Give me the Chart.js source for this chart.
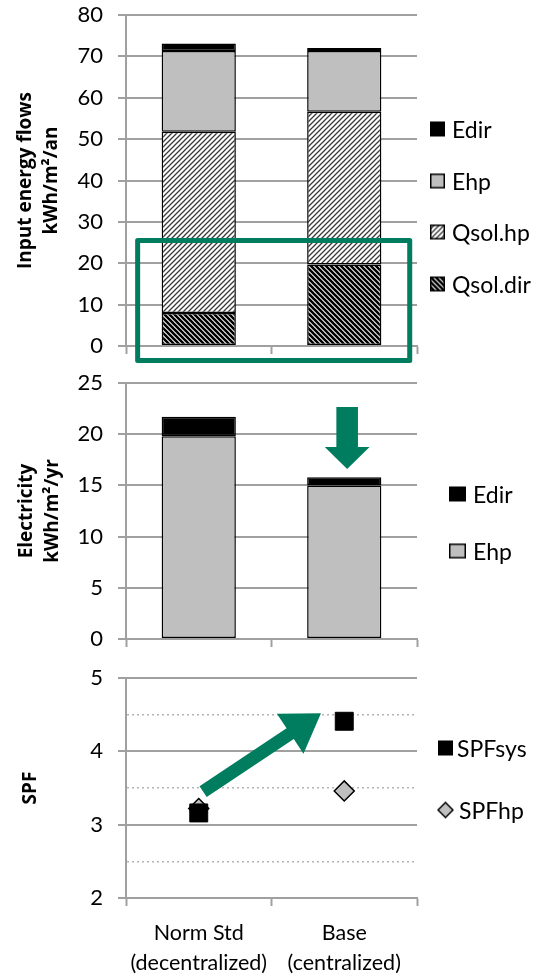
<!DOCTYPE html>
<html>
<head>
<meta charset="utf-8">
<script src="https://cdn.jsdelivr.net/npm/chart.js@4.4.1/dist/chart.umd.min.js"></script>
<style>
  html, body { margin: 0; padding: 0; background: #fff; }
  #wrap { position: relative; width: 537px; height: 977px; font-family: Lato, sans-serif; }
  canvas.chart { position: absolute; left: 0; }
  .lg { position: absolute; display: flex; align-items: center; font-size: 23px; color: #000;
        transform: translateY(-50%); white-space: nowrap; line-height: 1; }
</style>
</head>
<body>
<div id="wrap">
  <canvas id="flows" class="chart" width="537" height="368" style="top:0px"></canvas>
  <canvas id="elec" class="chart" width="537" height="288" style="top:368px"></canvas>
  <canvas id="spf" class="chart" width="537" height="321" style="top:656px"></canvas>
</div>
<script>
// categories (x axis)
const categories = [['Norm Std', '(decentralized)'], ['Base', '(centralized)']];

// input energy flows, kWh/m2/an (stacked, bottom to top)
const flowQsolDir = [8.0, 19.7];
const flowQsolHp = [43.8, 36.9];
const flowEhp = [19.5, 14.7];
const flowEdir = [1.8, 0.7];

// electricity, kWh/m2/yr
const elecEhp = [19.8, 15.0];
const elecEdir = [1.9, 0.8];

// seasonal performance factors
const spfSys = [3.16, 4.41];
const spfHp = [3.22, 3.46];

// axis ticks
const flowTicks = { min: 0, max: 80, step: 10 };
const elecTicks = { min: 0, max: 25, step: 5 };
const spfTicks = { min: 2, max: 5, step: 0.5 };

const GRID = '#a0a0a0';
const DOT = '#b4b4b4';
const GREEN = '#007d5e';
const GREY_FILL = '#bfbfbf';
const FONT = 'Lato';
const TITLE_FONT = 'Open Sans';

function hatch(forward, color, width, size) {
    const c = document.createElement('canvas');
    c.width = c.height = size;
    const g = c.getContext('2d');
    g.fillStyle = '#fff';
    g.fillRect(0, 0, size, size);
    g.strokeStyle = color;
    g.lineWidth = width;
    g.beginPath();
    if (forward) {
        g.moveTo(0, size); g.lineTo(size, 0);
        g.moveTo(-size / 2, size / 2); g.lineTo(size / 2, -size / 2);
        g.moveTo(size / 2, size * 1.5); g.lineTo(size * 1.5, size / 2);
    } else {
        g.moveTo(0, 0); g.lineTo(size, size);
        g.moveTo(-size / 2, size / 2); g.lineTo(size / 2, size * 1.5);
        g.moveTo(size / 2, -size / 2); g.lineTo(size * 1.5, size / 2);
    }
    g.stroke();
    return g.createPattern(c, 'repeat');
}

const hatchHp = hatch(true, '#3a3a3a', 1.3, 5);
const hatchDir = hatch(false, '#000', 2.6, 5);

function yAxis(t, title, titleTop) {
    return {
        stacked: true,
        min: t.min,
        max: t.max,
        ticks: { stepSize: t.step, color: '#000', font: { family: FONT, size: 22 }, padding: 15 },
        grid: { color: GRID, lineWidth: 2, tickLength: 8, tickColor: GRID, tickWidth: 2 },
        border: { color: GRID, width: 2 },
        title: {
            display: true, text: title, color: '#000',
            font: { family: TITLE_FONT, size: 19, weight: 'bold', lineHeight: 1.4 },
            padding: { top: titleTop, bottom: 0 }
        },
        afterFit: s => {
            s.width = 126;
            s.paddingTop = 0;
            s.paddingBottom = 0;
        }
    };
}

function xAxis(h, showLabels) {
    return {
        stacked: true,
        offset: true,
        ticks: {
            display: showLabels, color: '#000', maxRotation: 0, autoSkip: false,
            font: { family: FONT, size: 21.5, lineHeight: 1.4 }, padding: 12
        },
        grid: { offset: true, drawOnChartArea: false, tickLength: 8, tickColor: GRID, tickWidth: 2 },
        border: { color: GRID, width: 2 },
        afterFit: s => { s.height = h; }
    };
}

const common = {
    responsive: false,
    animation: false,
    devicePixelRatio: 1,
    plugins: { legend: { display: false }, tooltip: { enabled: false } }
};

const barStyle = { barPercentage: 0.51, categoryPercentage: 1, borderColor: '#000', borderWidth: 1.5, borderSkipped: false };

// green frame around the solar part of the top chart
const greenBox = {
    id: 'greenBox',
    afterDraw(chart) {
        const { ctx, scales: { x, y } } = chart;
        const l = x.getPixelForValue(-0.42), r = x.getPixelForValue(1.45);
        const t = y.getPixelForValue(25.5), b = y.getPixelForValue(-3.5);
        ctx.save();
        ctx.strokeStyle = GREEN;
        ctx.lineWidth = 5;
        ctx.lineJoin = 'round';
        ctx.strokeRect(l, t, r - l, b - t);
        ctx.restore();
    }
};

// down arrow over the Base bar
const downArrow = {
    id: 'downArrow',
    afterDraw(chart) {
        const { ctx, scales: { x, y } } = chart;
        const cx = x.getPixelForValue(1.02);
        const top = y.getPixelForValue(22.65), base = y.getPixelForValue(18.75), tip = y.getPixelForValue(16.6);
        const sw = 10.8, hw = 22.4;
        ctx.save();
        ctx.fillStyle = GREEN;
        ctx.beginPath();
        ctx.moveTo(cx - sw, top); ctx.lineTo(cx + sw, top);
        ctx.lineTo(cx + sw, base); ctx.lineTo(cx + hw, base);
        ctx.lineTo(cx, tip); ctx.lineTo(cx - hw, base);
        ctx.lineTo(cx - sw, base); ctx.closePath();
        ctx.fill();
        ctx.restore();
    }
};

// rising arrow in the SPF chart
const upArrow = {
    id: 'upArrow',
    afterDatasetsDraw(chart) {
        const { ctx, scales: { x, y } } = chart;
        const x0 = x.getPixelForValue(0.03), y0 = y.getPixelForValue(3.45);
        const x1 = x.getPixelForValue(0.84), y1 = y.getPixelForValue(4.52);
        const len = Math.hypot(x1 - x0, y1 - y0);
        const ang = Math.atan2(y1 - y0, x1 - x0);
        const sw = 6.5, hw = 24, hl = 37;
        ctx.save();
        ctx.translate(x0, y0);
        ctx.rotate(ang);
        ctx.fillStyle = GREEN;
        ctx.beginPath();
        ctx.moveTo(0, -sw); ctx.lineTo(len - hl, -sw); ctx.lineTo(len - hl, -hw);
        ctx.lineTo(len, 0);
        ctx.lineTo(len - hl, hw); ctx.lineTo(len - hl, sw); ctx.lineTo(0, sw);
        ctx.closePath();
        ctx.fill();
        ctx.restore();
    }
};

new Chart(document.getElementById('flows'), {
    type: 'bar',
    data: {
        labels: categories,
        datasets: [
            { label: 'Qsol.dir', data: flowQsolDir, backgroundColor: hatchDir, ...barStyle },
            { label: 'Qsol.hp', data: flowQsolHp, backgroundColor: hatchHp, ...barStyle },
            { label: 'Ehp', data: flowEhp, backgroundColor: GREY_FILL, ...barStyle },
            { label: 'Edir', data: flowEdir, backgroundColor: '#000', ...barStyle }
        ]
    },
    options: {
        ...common,
        layout: { padding: { top: 15, right: 120, left: 0, bottom: 0 } },
        scales: {
            x: xAxis(22, false),
            y: yAxis(flowTicks, ['Input energy flows', 'kWh/m²/an'], 12)
        }
    },
    plugins: [greenBox]
});

new Chart(document.getElementById('elec'), {
    type: 'bar',
    data: {
        labels: categories,
        datasets: [
            { label: 'Ehp', data: elecEhp, backgroundColor: GREY_FILL, ...barStyle },
            { label: 'Edir', data: elecEdir, backgroundColor: '#000', ...barStyle }
        ]
    },
    options: {
        ...common,
        layout: { padding: { top: 15, right: 120, left: 0, bottom: 0 } },
        scales: {
            x: xAxis(17, false),
            y: yAxis(elecTicks, ['Electricity', 'kWh/m²/yr'], 13)
        }
    },
    plugins: [downArrow]
});

const isHalf = c => c.tick && !Number.isInteger(c.tick.value);

const spfY = yAxis(spfTicks, 'SPF', 17);
spfY.stacked = false;
spfY.ticks.callback = v => Number.isInteger(v) ? v : '';
spfY.grid.color = c => isHalf(c) ? DOT : GRID;
spfY.grid.lineWidth = c => isHalf(c) ? 1.5 : 2;
spfY.grid.tickColor = c => isHalf(c) ? 'rgba(0,0,0,0)' : GRID;
spfY.border.dash = c => isHalf(c) ? [2, 3] : [];

const spfX = xAxis(79, true);
spfX.stacked = false;

new Chart(document.getElementById('spf'), {
    type: 'line',
    data: {
        labels: categories,
        datasets: [
            { label: 'SPFsys', data: spfSys, showLine: false, pointStyle: 'rect', pointRadius: 12.7,
              pointBackgroundColor: '#000', pointBorderColor: '#000', pointBorderWidth: 1 },
            { label: 'SPFhp', data: spfHp, showLine: false, pointStyle: 'rectRot', pointRadius: 10,
              pointBackgroundColor: GREY_FILL, pointBorderColor: '#000', pointBorderWidth: 1.5 }
        ]
    },
    options: {
        ...common,
        layout: { padding: { top: 22, right: 120, left: 0, bottom: 0 } },
        scales: { x: spfX, y: spfY }
    },
    plugins: [upArrow]
});

// legends
function swatch(w, h, paint) {
    const c = document.createElement('canvas');
    c.width = w; c.height = h;
    paint(c.getContext('2d'), w, h);
    return c;
}

function boxPaint(fill) {
    return (g, w, h) => {
        g.fillStyle = fill === 'hp' ? hatchHp : fill === 'dir' ? hatchDir : fill;
        g.fillRect(0, 0, w, h);
        g.strokeStyle = '#000';
        g.lineWidth = 1.5;
        g.strokeRect(0.75, 0.75, w - 1.5, h - 1.5);
    };
}

function diamondPaint(g, w, h) {
    g.fillStyle = GREY_FILL;
    g.strokeStyle = '#000';
    g.lineWidth = 1.5;
    g.beginPath();
    g.moveTo(w / 2, 1); g.lineTo(w - 1, h / 2); g.lineTo(w / 2, h - 1); g.lineTo(1, h / 2);
    g.closePath();
    g.fill(); g.stroke();
}

const legendItems = [
    { text: 'Edir', x: 430, y: 129, w: 15, h: 15, gap: 7, paint: boxPaint('#000') },
    { text: 'Ehp', x: 430, y: 181, w: 15, h: 15, gap: 7, paint: boxPaint(GREY_FILL) },
    { text: 'Qsol.hp', x: 430, y: 232, w: 15, h: 15, gap: 7, paint: boxPaint('hp') },
    { text: 'Qsol.dir', x: 430, y: 284, w: 15, h: 15, gap: 7, paint: boxPaint('dir') },
    { text: 'Edir', x: 449, y: 494, w: 17, h: 15, gap: 7, paint: boxPaint('#000') },
    { text: 'Ehp', x: 449, y: 551, w: 17, h: 15, gap: 7, paint: boxPaint(GREY_FILL) },
    { text: 'SPFsys', x: 438, y: 748, w: 15, h: 15, gap: 4, paint: boxPaint('#000') },
    { text: 'SPFhp', x: 437, y: 810, w: 17, h: 17, gap: 5, paint: diamondPaint }
];

const wrap = document.getElementById('wrap');
legendItems.forEach(it => {
    const d = document.createElement('div');
    d.className = 'lg';
    d.style.left = it.x + 'px';
    d.style.top = it.y + 'px';
    const c = swatch(it.w, it.h, it.paint);
    c.style.marginRight = it.gap + 'px';
    d.appendChild(c);
    const s = document.createElement('span');
    s.textContent = it.text;
    d.appendChild(s);
    wrap.appendChild(d);
});
</script>
</body>
</html>
